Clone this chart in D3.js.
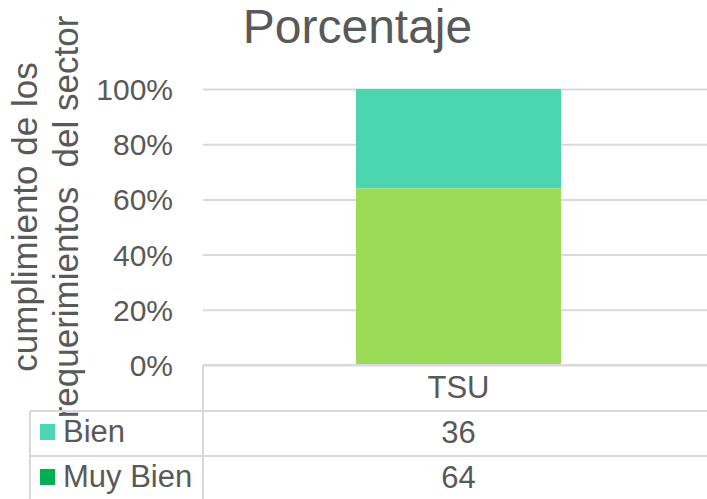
<!DOCTYPE html>
<html>
<head>
<meta charset="utf-8">
<script src="https://cdn.jsdelivr.net/npm/d3@7"></script>
<style>
  body { margin: 0; background: #fff; }
  svg { display: block; font-family: "Liberation Sans", Arial, sans-serif; }
</style>
</head>
<body>
<svg id="chart"></svg>
<script>
const categories = ["TSU"];
const seriesNames = ["Muy Bien", "Bien"]; // bottom to top
const muyBien = [64];
const bien = [36];
const yTicks = [0, 20, 40, 60, 80, 100];

const barColors = { "Muy Bien": "#9bdb55", "Bien": "#4cd6b0" };
// the table legend key for "Muy Bien" differs from the bar in the source
const keyColors = { "Muy Bien": "#00b050", "Bien": "#4cd6b0" };

const W = 707, H = 499;
const textColor = "#595959", gridColor = "#d9d9d9";

const rows = categories.map((c, i) => ({ cat: c, "Muy Bien": muyBien[i], "Bien": bien[i] }));
const stacked = d3.stack().keys(seriesNames)(rows);

const svg = d3.select("#chart").attr("width", W).attr("height", H);

const x = d3.scaleBand()
  .domain(categories)
  .range([203, 714])
  .paddingInner(0)
  .paddingOuter(0.746);

const y = d3.scaleLinear().domain([0, 100]).range([365, 89]);

// title
svg.append("text")
  .attr("x", 357.5).attr("y", 43)
  .attr("text-anchor", "middle")
  .attr("font-size", 48)
  .attr("fill", textColor)
  .text("Porcentaje");

// gridlines + tick labels
const yAxis = svg.append("g")
  .attr("transform", "translate(203,0)")
  .call(d3.axisLeft(y).tickValues(yTicks).tickSize(-(W - 203)).tickPadding(30)
    .tickFormat((d) => d + "%"));
yAxis.select(".domain").remove();
yAxis.selectAll(".tick line").attr("stroke", gridColor).attr("stroke-width", 2);
yAxis.selectAll(".tick text")
  .attr("fill", textColor)
  .attr("font-size", 30)
  .attr("font-family", "Liberation Sans, Arial, sans-serif")
  .attr("dy", "0.35em");

// bars
svg.append("g")
  .selectAll("g")
  .data(stacked)
  .join("g")
  .attr("fill", (s) => barColors[s.key])
  .selectAll("rect")
  .data((s) => s)
  .join("rect")
  .attr("x", (d) => x(d.data.cat))
  .attr("width", x.bandwidth())
  .attr("y", (d) => y(d[1]))
  .attr("height", (d) => y(d[0]) - y(d[1]));

// y axis title (two lines)
const yTitle = svg.append("g").attr("fill", textColor).attr("font-size", 35);
yTitle.append("text")
  .attr("transform", "translate(37,217) rotate(-90)")
  .attr("text-anchor", "middle")
  .text("cumplimiento de los");
yTitle.append("text")
  .attr("transform", "translate(78,217) rotate(-90)")
  .attr("text-anchor", "middle")
  .attr("xml:space", "preserve")
  .style("white-space", "pre")
  .text("requerimientos  del sector");

// data table
const table = svg.append("g");
const lineAttrs = (sel) => sel.attr("stroke", gridColor).attr("stroke-width", 2);
table.append("line").attr("x1", 203).attr("x2", W).attr("y1", 365).attr("y2", 365).call(lineAttrs);
table.append("line").attr("x1", 203).attr("x2", 203).attr("y1", 365).attr("y2", H).call(lineAttrs);

const rowTop = [411, 456];
const tableRows = ["Bien", "Muy Bien"];
const tableValues = { "Bien": bien, "Muy Bien": muyBien };

table.append("line").attr("x1", 30).attr("x2", 30).attr("y1", 411).attr("y2", H).call(lineAttrs);
rowTop.forEach((ty) => {
  table.append("line").attr("x1", 30).attr("x2", W).attr("y1", ty).attr("y2", ty).call(lineAttrs);
});

// category label row
categories.forEach((c) => {
  table.append("text")
    .attr("x", x(c) + x.bandwidth() / 2).attr("y", 398)
    .attr("text-anchor", "middle")
    .attr("font-size", 31).attr("fill", textColor)
    .text(c);
});

tableRows.forEach((name, i) => {
  const base = rowTop[i] + 31;
  table.append("rect")
    .attr("x", 40).attr("y", rowTop[i] + 13)
    .attr("width", 15).attr("height", 16)
    .attr("fill", keyColors[name]);
  table.append("text")
    .attr("x", 63).attr("y", base)
    .attr("font-size", 31).attr("fill", textColor)
    .text(name);
  categories.forEach((c, j) => {
    table.append("text")
      .attr("x", x(c) + x.bandwidth() / 2).attr("y", base + 1)
      .attr("text-anchor", "middle")
      .attr("font-size", 31).attr("fill", textColor)
      .text(tableValues[name][j]);
  });
});
</script>
</body>
</html>
